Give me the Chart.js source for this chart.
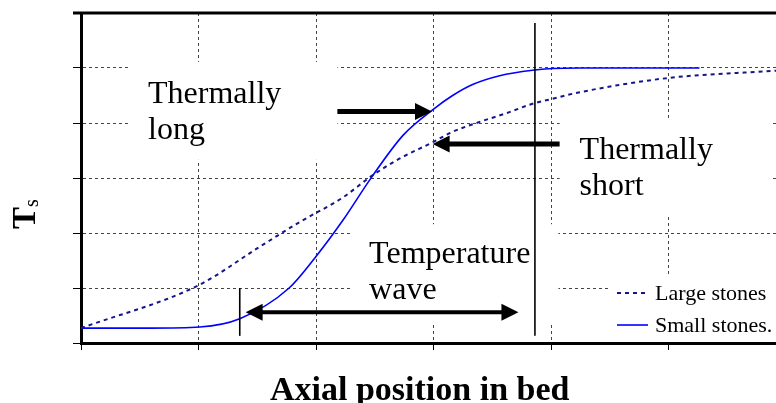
<!DOCTYPE html>
<html>
<head>
<meta charset="utf-8">
<script src="https://cdn.jsdelivr.net/npm/chart.js@4.4.1/dist/chart.umd.min.js"></script>
<style>
  html, body { margin: 0; padding: 0; background: #fff; }
  #wrap { width: 776px; height: 403px; }
</style>
</head>
<body>
<div id="wrap"><canvas id="chart"></canvas></div>
<script>
// series (x = axial position, y = Ts, arbitrary units)
const seriesNames = ['Large stones', 'Small stones.'];
const largeX = [0, 1.0, 1.52, 1.86, 2.23, 2.46, 2.69, 2.99, 3.16, 3.39, 3.62, 3.84, 4.01, 4.22, 5.0, 5.91];
const largeY = [0.27, 1.05, 1.75, 2.2, 2.65, 3.02, 3.33, 3.65, 3.84, 4.02, 4.18, 4.35, 4.44, 4.55, 4.82, 4.95];
const smallX = [0, 0.59, 1.01, 1.35, 1.77, 1.99, 2.23, 2.46, 2.74, 2.99, 3.16, 3.33, 3.56, 3.84, 4.01, 4.24, 5.26];
const smallY = [0.27, 0.27, 0.29, 0.44, 1.0, 1.55, 2.24, 2.98, 3.78, 4.24, 4.5, 4.7, 4.86, 4.96, 4.99, 5.0, 5.0];
const xTicks = [0, 1, 2, 3, 4, 5];
const yTicks = [0, 1, 2, 3, 4, 5, 6];

// annotations, in data units
const notes = [
  { lines: ['Thermally', 'long'], x: 0.57, y: 4.36, box: [0.40, 2.18, 5.11, 3.33] },
  { lines: ['Thermally', 'short'], x: 4.24, y: 3.35, box: [4.07, 5.86, 4.09, 2.29] },
  { lines: ['Temperature', 'wave'], x: 2.45, y: 1.45, box: [2.29, 4.06, 2.16, 0.38] }
];
const arrows = [
  { x1: 2.18, x2: 2.985, y: 4.21, both: false, w: 5 },
  { x1: 4.07, x2: 2.99, y: 3.62, both: false, w: 5 },
  { x1: 1.40, x2: 3.72, y: 0.56, both: true, w: 4 }
];
const markers = [
  { x: 1.35, y1: 0.13, y2: 1.0 },
  { x: 3.86, y1: 0.13, y2: 5.82 }
];
const legendBox = [4.5, 5.91, 1.24, 0.04];

const serif = '"Liberation Serif", "Times New Roman", serif';

function drawArrow(ctx, x1, x2, y, w, both) {
  const hl = 17, hw = 8.5;
  const dir = Math.sign(x2 - x1);
  ctx.lineWidth = w;
  ctx.beginPath();
  ctx.moveTo(both ? x1 + dir * hl * 0.8 : x1, y);
  ctx.lineTo(x2 - dir * hl * 0.8, y);
  ctx.stroke();
  const head = (tx, d) => {
    ctx.beginPath();
    ctx.moveTo(tx, y);
    ctx.lineTo(tx - d * hl, y - hw);
    ctx.lineTo(tx - d * hl, y + hw);
    ctx.closePath();
    ctx.fill();
  };
  head(x2, dir);
  if (both) head(x1, -dir);
}

const decor = {
  id: 'decor',
  beforeDatasetsDraw(chart) {
    const { ctx, scales: { x, y } } = chart;
    ctx.save();
    ctx.fillStyle = '#fff';
    notes.forEach(n => {
      const [a, b, c, d] = n.box;
      ctx.fillRect(x.getPixelForValue(a), y.getPixelForValue(c),
        x.getPixelForValue(b) - x.getPixelForValue(a), y.getPixelForValue(d) - y.getPixelForValue(c));
    });
    const [a, b, c, d] = legendBox;
    ctx.fillRect(x.getPixelForValue(a), y.getPixelForValue(c),
      x.getPixelForValue(b) - x.getPixelForValue(a), y.getPixelForValue(d) - y.getPixelForValue(c));
    ctx.restore();
  },
  afterDatasetsDraw(chart) {
    const { ctx, chartArea, scales: { x, y } } = chart;
    ctx.save();
    ctx.strokeStyle = '#000';
    ctx.fillStyle = '#000';

    // top frame line
    ctx.lineWidth = 3;
    ctx.beginPath();
    ctx.moveTo(chartArea.left - 8, chartArea.top);
    ctx.lineTo(chart.width, chartArea.top);
    ctx.stroke();

    // vertical markers
    ctx.lineWidth = 1.6;
    markers.forEach(m => {
      const px = x.getPixelForValue(m.x);
      ctx.beginPath();
      ctx.moveTo(px, y.getPixelForValue(m.y1));
      ctx.lineTo(px, y.getPixelForValue(m.y2));
      ctx.stroke();
    });

    arrows.forEach(a => drawArrow(ctx, x.getPixelForValue(a.x1), x.getPixelForValue(a.x2),
      y.getPixelForValue(a.y), a.w, a.both));

    // annotation text
    ctx.font = '32px ' + serif;
    ctx.textAlign = 'left';
    ctx.textBaseline = 'alphabetic';
    notes.forEach(n => {
      const px = x.getPixelForValue(n.x), py = y.getPixelForValue(n.y);
      n.lines.forEach((t, i) => ctx.fillText(t, px, py + i * 36));
    });

    // legend
    const ds = chart.data.datasets;
    const lx = 617, ly = [293, 325];
    ds.forEach((d, i) => {
      ctx.save();
      ctx.strokeStyle = d.borderColor;
      ctx.lineWidth = d.borderWidth;
      ctx.setLineDash(d.borderDash || []);
      ctx.beginPath();
      ctx.moveTo(lx, ly[i]);
      ctx.lineTo(lx + 31, ly[i]);
      ctx.stroke();
      ctx.restore();
      ctx.font = '22px ' + serif;
      ctx.fillStyle = '#000';
      ctx.fillText(d.label, 655, ly[i] + 7);
    });

    // axis titles
    ctx.font = 'bold 34px ' + serif;
    ctx.fillText('Axial position in bed', 270, 400);

    ctx.translate(35, 229);
    ctx.rotate(-Math.PI / 2);
    ctx.font = 'bold 33px ' + serif;
    const tw = ctx.measureText('T').width;
    ctx.fillText('T', 0, 0);
    ctx.font = '20px ' + serif;
    ctx.fillText('s', tw, 3);
    ctx.restore();
  }
};

new Chart(document.getElementById('chart'), {
  type: 'line',
  data: {
    datasets: [
      {
        label: seriesNames[0],
        data: largeX.map((v, i) => ({ x: v, y: largeY[i] })),
        borderColor: '#14148c',
        borderWidth: 2,
        borderDash: [4, 4],
        pointRadius: 0,
        cubicInterpolationMode: 'monotone',
        fill: false
      },
      {
        label: seriesNames[1],
        data: smallX.map((v, i) => ({ x: v, y: smallY[i] })),
        borderColor: '#0000ff',
        borderWidth: 1.6,
        pointRadius: 0,
        cubicInterpolationMode: 'monotone',
        fill: false
      }
    ]
  },
  options: {
    responsive: true,
    maintainAspectRatio: false,
    animation: false,
    layout: { padding: { top: 13, right: 0, bottom: 0, left: 0 } },
    plugins: { legend: { display: false }, tooltip: { enabled: false } },
    scales: {
      x: {
        type: 'linear',
        min: 0,
        max: 5.91,
        afterBuildTicks: s => { s.ticks = xTicks.map(v => ({ value: v })); },
        afterFit: s => { s.height = 60; },
        ticks: { display: false },
        grid: { color: '#444', lineWidth: 1, tickLength: 7, tickColor: '#000', tickBorderDash: [] },
        border: { color: '#000', width: 3, dash: [3, 3] }
      },
      y: {
        type: 'linear',
        min: 0,
        max: 6,
        afterBuildTicks: s => { s.ticks = yTicks.map(v => ({ value: v })); },
        afterFit: s => { s.width = 81; },
        ticks: { display: false },
        grid: { color: '#444', lineWidth: 1, tickLength: 8, tickColor: '#000', tickBorderDash: [] },
        border: { color: '#000', width: 3, dash: [3, 3] }
      }
    }
  },
  plugins: [decor]
});
</script>
</body>
</html>
